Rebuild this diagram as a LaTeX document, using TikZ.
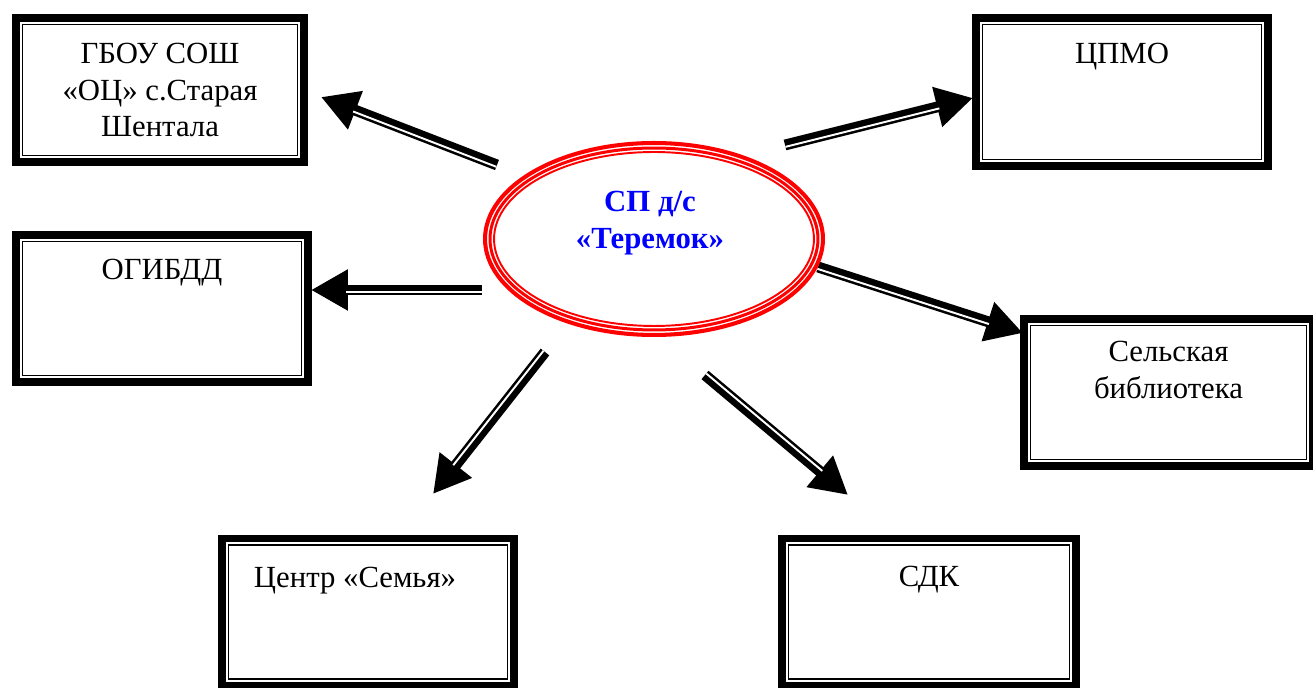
\documentclass[tikz,border=0pt]{standalone}
\usepackage{fontspec}
\setmainfont{Liberation Serif}
\usetikzlibrary{arrows.meta,calc,positioning,shapes.geometric}
\tikzset{%
  framebox/.style = {shape=rectangle, draw, line width=4.5pt,%
                     minimum width=5.84cm, minimum height=2.94cm, inner sep=0pt,%
                     align=center, font=\fontsize{17.5}{21}\selectfont,%
                     path picture={\draw[line width=0.85pt]
                       ([shift={(3.8pt,3.8pt)}]path picture bounding box.south west) rectangle
                       ([shift={(-3.8pt,-3.8pt)}]path picture bounding box.north east);}},%
  boxtext/.style  = {align=center, inner sep=0pt, font=\fontsize{17.5}{21}\selectfont},%
  oval/.style     = {shape=ellipse, draw=red, line width=2.3pt, inner sep=0pt,%
                     minimum width=6.76cm, minimum height=3.84cm},%
  ovalring/.style = {red, line width=#1},%
  ovaltext/.style = {align=center, inner sep=0pt, text=blue,%
                     font=\bfseries\fontsize{17.5}{21}\selectfont},%
  shaft/.style    = {line width=6.2pt, -{Triangle[length=21pt,width=22pt]}},%
  shaftgap/.style = {white, line width=1.1pt, shorten >=20pt}%
}
% thick arrow with a thin white line on side #3
\newcommand{\twinarrow}[3]{%
  \draw[shaft] (#1) -- (#2);
  \draw[shaftgap] ($(#1)!1.1pt!#3:(#2)$) -- ($(#2)!-1.1pt!#3:(#1)$);}

\begin{document}
\begin{tikzpicture}[x=0.02cm,y=-0.02cm]
	\useasboundingbox (0,0) rectangle (1313,688);
	% boxes
	\node[framebox, minimum width=5.76cm, minimum height=2.88cm] (gbou) at (160,90)
		{ГБОУ СОШ\\«ОЦ» с.Старая\\Шентала};
	\node[framebox, minimum height=2.96cm] (cpmo) at (1122,92) {};
	\node[boxtext, below=16.4pt of cpmo.north] (cpmotext) {ЦПМО};
	\node[framebox] (gibdd) at (162,308.5) {};
	\node[boxtext, below=15.9pt of gibdd.north] (gibddtext) {ОГИБДД};
	\node[framebox, minimum width=5.78cm] (library) at (1168.5,392.5) {};
	\node[boxtext, below=14.7pt of library.north] (librarytext) {Сельская\\библиотека};
	\node[framebox] (family) at (368,612) {};
	\node[boxtext, below=18.5pt of family.north, xshift=-7.4pt] (familytext) {Центр «Семья»};
	\node[framebox, minimum width=5.88cm] (sdk) at (929,612) {};
	\node[boxtext, below=17.5pt of sdk.north] (sdktext) {СДК};
	% arrows
	\coordinate (s1) at (497,165);  \coordinate (t1) at (321,97);
	\coordinate (s2) at (785,145);  \coordinate (t2) at (973,98);
	\coordinate (s3) at (482,290);  \coordinate (t3) at (311,290);
	\coordinate (s4) at (818,267);  \coordinate (t4) at (1023,333);
	\coordinate (s5) at (545,352);  \coordinate (t5) at (433,494);
	\coordinate (s6) at (705,375);  \coordinate (t6) at (848,495);
	\twinarrow{s1}{t1}{90}
	\twinarrow{s2}{t2}{-90}
	\twinarrow{s3}{t3}{90}
	\twinarrow{s4}{t4}{-90}
	\twinarrow{s5}{t5}{-90}
	\twinarrow{s6}{t6}{90}
	% centre
	\node[oval] (sp) at (654,239) {};
	\draw[ovalring=1.7pt] (sp.center) ellipse [x radius=3.28cm, y radius=1.82cm];
	\draw[ovalring=1.1pt] (sp.center) ellipse [x radius=3.20cm, y radius=1.74cm];
	\node[ovaltext] (sptext) at (650,223) {СП д/с\\«Теремок»};
\end{tikzpicture}
\end{document}
